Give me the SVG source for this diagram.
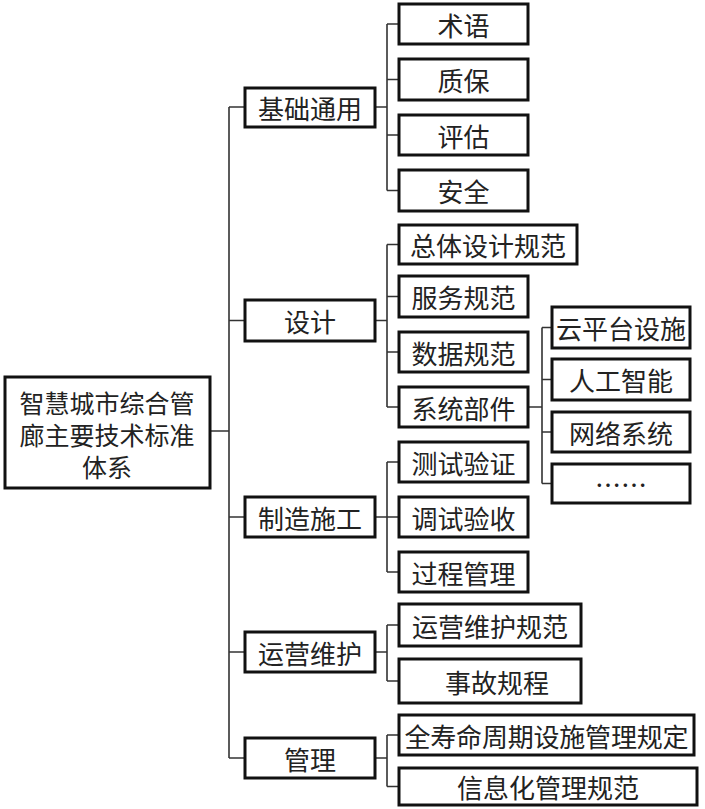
<svg xmlns="http://www.w3.org/2000/svg" width="705" height="809" viewBox="0 0 705 809">
<style>
rect{fill:#fff;stroke:#111;stroke-width:3}
text{font-family:"Noto Sans CJK SC","Liberation Sans",sans-serif;font-size:26px;fill:#222;text-anchor:middle;dominant-baseline:central}
#connectors path{fill:none;stroke:#333;stroke-width:1.6}
</style>
<rect x="0" y="0" width="705" height="809" style="stroke:none"/>
<g id="connectors">
<path d="M210 431H229M229 107V758M229 107H245M229 320.5H245M229 517H245M229 652H245M229 758H245"/>
<path d="M375 107H387M387 24V190.5M387 24H399M387 79.5H399M387 135H399M387 190.5H399"/>
<path d="M375 320.5H387M387 244.5V407M387 244.5H399M387 296.5H399M387 352H399M387 407H399"/>
<path d="M528 407H542M542 327.5V483.5M542 327.5H552M542 379.5H552M542 432H552M542 483.5H552"/>
<path d="M375 517H387M387 462V572M387 462H399M387 517H399M387 572H399"/>
<path d="M375 652H387M387 625V681M387 625H399M387 681H399"/>
<path d="M375 758H387M387 735V786.5M387 735H399M387 786.5H399"/>
</g>
<g id="root"><rect x="5" y="377" width="205" height="111"/><text x="107" y="402" style="font-size:25px">智慧城市综合管</text><text x="107" y="434" style="font-size:25px">廊主要技术标准</text><text x="107" y="466" style="font-size:25px">体系</text></g>
<g id="n-jichu"><rect x="245" y="88" width="130" height="39"/><text x="310" y="107.5">基础通用</text></g>
<g id="n-sheji"><rect x="245" y="300" width="130" height="41"/><text x="310" y="320.5">设计</text></g>
<g id="n-zhizao"><rect x="245" y="497" width="130" height="40"/><text x="310" y="517">制造施工</text></g>
<g id="n-yunying"><rect x="245" y="632" width="130" height="40"/><text x="310" y="652">运营维护</text></g>
<g id="n-guanli"><rect x="245" y="738" width="130" height="40"/><text x="310" y="758">管理</text></g>
<g id="n-shuyu"><rect x="399" y="4" width="129" height="40"/><text x="463.5" y="24">术语</text></g>
<g id="n-zhibao"><rect x="399" y="59" width="129" height="41"/><text x="463.5" y="79.5">质保</text></g>
<g id="n-pinggu"><rect x="399" y="115" width="129" height="40"/><text x="463.5" y="135">评估</text></g>
<g id="n-anquan"><rect x="399" y="170" width="129" height="41"/><text x="463.5" y="190.5">安全</text></g>
<g id="n-zongti"><rect x="399" y="225" width="178" height="39"/><text x="488" y="244.5">总体设计规范</text></g>
<g id="n-fuwu"><rect x="399" y="276" width="129" height="41"/><text x="463.5" y="296.5">服务规范</text></g>
<g id="n-shuju"><rect x="399" y="332" width="129" height="40"/><text x="463.5" y="352">数据规范</text></g>
<g id="n-xitong"><rect x="399" y="387" width="129" height="40"/><text x="463.5" y="407">系统部件</text></g>
<g id="n-yun"><rect x="552" y="307" width="138" height="41"/><text x="621" y="327.5">云平台设施</text></g>
<g id="n-rengong"><rect x="552" y="359" width="138" height="41"/><text x="621" y="379.5">人工智能</text></g>
<g id="n-wangluo"><rect x="552" y="412" width="138" height="40"/><text x="621" y="432">网络系统</text></g>
<g id="n-more"><rect x="552" y="464" width="138" height="39"/><text x="621" y="483.5">……</text></g>
<g id="n-ceshi"><rect x="399" y="442" width="129" height="40"/><text x="463.5" y="462">测试验证</text></g>
<g id="n-tiaoshi"><rect x="399" y="497" width="129" height="40"/><text x="463.5" y="517">调试验收</text></g>
<g id="n-guocheng"><rect x="399" y="552" width="129" height="40"/><text x="463.5" y="572">过程管理</text></g>
<g id="n-yunweiguifan"><rect x="399" y="604" width="182" height="42"/><text x="490" y="625">运营维护规范</text></g>
<g id="n-shigu"><rect x="399" y="659" width="182" height="44"/><text x="497" y="681">事故规程</text></g>
<g id="n-quanshouming"><rect x="399" y="715" width="295" height="40"/><text x="546.5" y="735" textLength="284" lengthAdjust="spacing">全寿命周期设施管理规定</text></g>
<g id="n-xinxihua"><rect x="399" y="768" width="298" height="37"/><text x="548" y="786.5">信息化管理规范</text></g>
</svg>
